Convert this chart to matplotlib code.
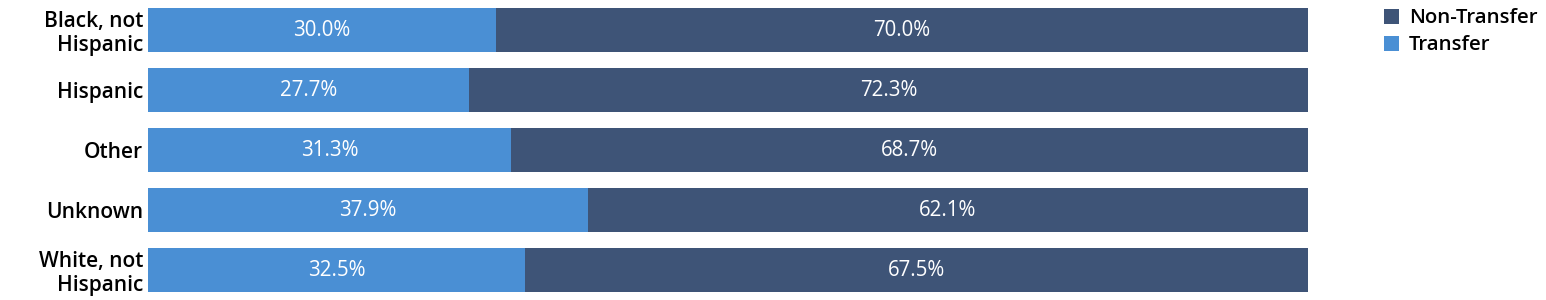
import numpy as np
import matplotlib.pyplot as plt

plt.rcParams['font.family'] = ['Open Sans', 'DejaVu Sans']

categories = ['Black, not\nHispanic', 'Hispanic', 'Other', 'Unknown', 'White, not\nHispanic']
transfer = [30.0, 27.7, 31.3, 37.9, 32.5]
non_transfer = [70.0, 72.3, 68.7, 62.1, 67.5]

c_transfer = '#4a8fd4'
c_non = '#3e5477'

fig = plt.figure(figsize=(15.46, 3.0), dpi=100)
ax = fig.add_axes([148 / 1546, 0, 1160 / 1546, 1])

y = np.arange(len(categories))
h = 44 / 60
b1 = ax.barh(y, transfer, height=h, color=c_transfer, label='Transfer')
b2 = ax.barh(y, non_transfer, left=transfer, height=h, color=c_non, label='Non-Transfer')

for i in range(len(categories)):
    ax.text(transfer[i] / 2, y[i], f'{transfer[i]:.1f}%', ha='center', va='center',
            color='white', fontsize=14.8)
    ax.text(transfer[i] + non_transfer[i] / 2, y[i], f'{non_transfer[i]:.1f}%',
            ha='center', va='center', color='white', fontsize=14.8)

ax.set_xlim(0, 100)
ax.set_ylim(len(categories) - 0.5, -0.5)
ax.set_yticks(y)
ax.set_yticklabels(categories, fontsize=15, fontweight='semibold', linespacing=1.15)
ax.tick_params(axis='y', length=0, pad=3.5)
ax.set_xticks([])
for s in ax.spines.values():
    s.set_visible(False)

leg = fig.legend(handles=[b2, b1], labels=['Non-Transfer', 'Transfer'],
                 loc='upper left', bbox_to_anchor=(1376 / 1546, 1.0), frameon=False,
                 prop={'size': 14.7, 'weight': 'semibold'}, handlelength=0.75,
                 handleheight=0.75, handletextpad=0.45, labelspacing=0.35,
                 borderaxespad=0)

fig.savefig('out.png', dpi=100)
